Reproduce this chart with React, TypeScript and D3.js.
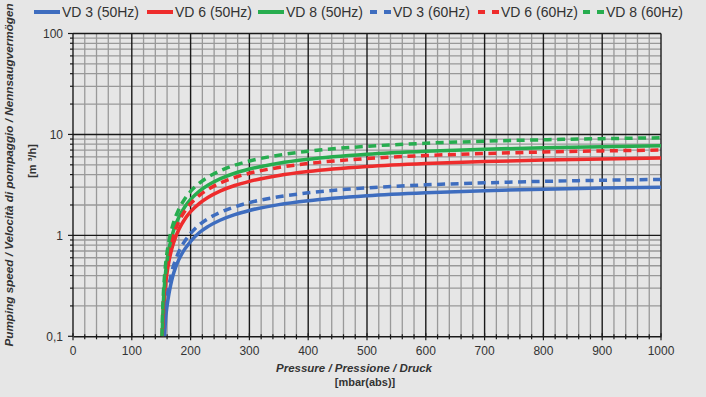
import React, { useEffect, useRef } from 'react';
import * as d3 from 'd3';

// pressure grid [mbar(abs)] shared by all curves
const pressures = [152, 154, 156, 158, 160, 163, 166, 170, 175, 180, 190, 200, 215, 230, 250, 275, 300, 350, 400, 500, 600, 700, 800, 900, 1000];

// pressure where each curve leaves the 0,1 line
const startVD3_50 = 155.5;
const startVD6_50 = 152.2;
const startVD8_50 = 151.7;
const startVD3_60 = 154.5;
const startVD6_60 = 151.8;
const startVD8_60 = 151.4;

// pumping speed [m3/h], null = below the 0,1 line
const vd3_50 = [null, null, 0.11, 0.16, 0.2, 0.26, 0.32, 0.4, 0.49, 0.575, 0.73, 0.87, 1.067, 1.228, 1.412, 1.605, 1.765, 2.017, 2.206, 2.471, 2.648, 2.774, 2.868, 2.942, 3.0];
const vd6_50 = [null, 0.178, 0.264, 0.347, 0.429, 0.547, 0.661, 0.807, 0.98, 1.143, 1.444, 1.715, 2.074, 2.386, 2.744, 3.118, 3.43, 3.92, 4.288, 4.802, 5.145, 5.39, 5.574, 5.717, 5.831];
const vd8_50 = [0.119, 0.236, 0.349, 0.46, 0.568, 0.724, 0.875, 1.068, 1.297, 1.513, 1.912, 2.27, 2.745, 3.158, 3.632, 4.127, 4.54, 5.189, 5.675, 6.356, 6.81, 7.134, 7.378, 7.567, 7.718];
const vd3_60 = [null, null, 0.14, 0.19, 0.24, 0.315, 0.385, 0.48, 0.585, 0.69, 0.875, 1.045, 1.276, 1.468, 1.688, 1.918, 2.11, 2.411, 2.638, 2.954, 3.165, 3.316, 3.429, 3.517, 3.587];
const vd6_60 = [0.108, 0.214, 0.317, 0.417, 0.515, 0.657, 0.794, 0.969, 1.177, 1.373, 1.735, 2.06, 2.491, 2.866, 3.296, 3.745, 4.12, 4.709, 5.15, 5.768, 6.18, 6.474, 6.695, 6.867, 7.004];
const vd8_60 = [0.143, 0.283, 0.419, 0.552, 0.681, 0.869, 1.051, 1.282, 1.557, 1.817, 2.295, 2.725, 3.295, 3.791, 4.36, 4.955, 5.45, 6.229, 6.813, 7.63, 8.175, 8.564, 8.856, 9.083, 9.265];

const seriesNames = ['VD 3 (50Hz)', 'VD 6 (50Hz)', 'VD 8 (50Hz)', 'VD 3 (60Hz)', 'VD 6 (60Hz)', 'VD 8 (60Hz)'];

const xTickLabels = ['0', '100', '200', '300', '400', '500', '600', '700', '800', '900', '1000'];
const yTickValues = [0.1, 1, 10, 100];
const yTickLabels = ['0,1', '1', '10', '100'];

const BLUE = '#3e6dbf';
const RED = '#ee2c2c';
const GREEN = '#27ad4f';

export default function App() {
  const ref = useRef(null);

  useEffect(() => {
    let width = 706, height = 397;
    let left = 73, right = 661, top = 33.5, bottom = 336.3;
    let font = 'Liberation Sans, Arial, sans-serif';

    let svg = d3.select(ref.current);
    svg.selectAll('*').remove();

    svg.append('rect').attr('width', width).attr('height', height).attr('fill', '#e6e6e6');

    let x = d3.scaleLinear().domain([0, 1000]).range([left, right]);
    let y = d3.scaleLog().domain([0.1, 100]).range([bottom, top]);

    let grid = svg.append('g');

    // minor grid every 20 mbar, major every 100
    d3.range(0, 1001, 20).forEach(function (v) {
      if (v % 100 === 0) return;
      grid.append('line')
        .attr('x1', x(v)).attr('x2', x(v)).attr('y1', top).attr('y2', bottom)
        .attr('stroke', '#999').attr('stroke-width', 1.3);
    });
    let yMinor = [];
    [0.1, 1, 10].forEach(function (d) {
      for (let k = 2; k <= 9; k++) yMinor.push(d * k);
    });
    yMinor.forEach(function (v) {
      grid.append('line')
        .attr('x1', left).attr('x2', right).attr('y1', y(v)).attr('y2', y(v))
        .attr('stroke', '#999').attr('stroke-width', 1.3);
    });
    d3.range(100, 1001, 100).forEach(function (v) {
      grid.append('line')
        .attr('x1', x(v)).attr('x2', x(v)).attr('y1', top).attr('y2', bottom)
        .attr('stroke', '#1a1a1a').attr('stroke-width', 1.4);
    });
    [1, 10, 100].forEach(function (v) {
      grid.append('line')
        .attr('x1', left).attr('x2', right).attr('y1', y(v)).attr('y2', y(v))
        .attr('stroke', '#1a1a1a').attr('stroke-width', 1.4);
    });

    // axes
    let xAxis = d3.axisBottom(x).tickValues(d3.range(0, 1001, 20)).tickSize(0).tickFormat('');
    svg.append('g').attr('transform', 'translate(0,' + bottom + ')').call(xAxis)
      .call(g => g.select('.domain').attr('stroke', '#1a1a1a').attr('stroke-width', 1.4));
    d3.range(0, 1001, 20).forEach(function (v) {
      let major = v % 100 === 0;
      svg.append('line')
        .attr('x1', x(v)).attr('x2', x(v))
        .attr('y1', bottom - (major ? 3 : 2)).attr('y2', bottom + (major ? 4 : 3))
        .attr('stroke', '#1a1a1a').attr('stroke-width', 1.2);
    });
    svg.append('line').attr('x1', left).attr('x2', left).attr('y1', top).attr('y2', bottom)
      .attr('stroke', '#1a1a1a').attr('stroke-width', 1.4);
    yTickValues.forEach(function (v) {
      svg.append('line').attr('x1', left - 5).attr('x2', left).attr('y1', y(v)).attr('y2', y(v))
        .attr('stroke', '#1a1a1a').attr('stroke-width', 1.2);
    });
    yMinor.forEach(function (v) {
      svg.append('line').attr('x1', left - 3).attr('x2', left).attr('y1', y(v)).attr('y2', y(v))
        .attr('stroke', '#1a1a1a').attr('stroke-width', 1.2);
    });

    xTickLabels.forEach(function (t) {
      svg.append('text')
        .attr('x', x(+t)).attr('y', 355)
        .attr('text-anchor', 'middle')
        .style('font-family', font).style('font-size', '12px')
        .attr('fill', '#333')
        .text(t);
    });
    yTickValues.forEach(function (v, i) {
      svg.append('text')
        .attr('x', 63).attr('y', y(v)).attr('dy', '0.35em')
        .attr('text-anchor', 'end')
        .style('font-family', font).style('font-size', '12px')
        .attr('fill', '#333')
        .text(yTickLabels[i]);
    });

    // axis titles
    svg.append('text')
      .attr('transform', 'translate(13,175) rotate(-90)')
      .attr('text-anchor', 'middle')
      .style('font-family', font).style('font-size', '11.7px')
      .style('font-weight', 'bold').style('font-style', 'italic')
      .attr('fill', '#333')
      .text('Pumping speed / Velocità di pompaggio / Nennsaugvermögen');
    svg.append('text')
      .attr('transform', 'translate(36,161) rotate(-90)')
      .attr('text-anchor', 'middle')
      .style('font-family', font).style('font-size', '11px')
      .style('font-weight', 'bold')
      .attr('fill', '#333')
      .text('[m ³/h]');
    svg.append('text')
      .attr('x', 354).attr('y', 372)
      .attr('text-anchor', 'middle')
      .style('font-family', font).style('font-size', '11.5px')
      .style('font-weight', 'bold').style('font-style', 'italic')
      .attr('fill', '#333')
      .text('Pressure / Pressione / Druck');
    svg.append('text')
      .attr('x', 365).attr('y', 386)
      .attr('text-anchor', 'middle')
      .style('font-family', font).style('font-size', '11px')
      .style('font-weight', 'bold')
      .attr('fill', '#333')
      .text('[mbar(abs)]');

    // curves
    let series = [
      { name: seriesNames[0], start: startVD3_50, values: vd3_50, color: BLUE, dash: null },
      { name: seriesNames[1], start: startVD6_50, values: vd6_50, color: RED, dash: null },
      { name: seriesNames[2], start: startVD8_50, values: vd8_50, color: GREEN, dash: null },
      { name: seriesNames[3], start: startVD3_60, values: vd3_60, color: BLUE, dash: '8,5.5' },
      { name: seriesNames[4], start: startVD6_60, values: vd6_60, color: RED, dash: '8,5.5' },
      { name: seriesNames[5], start: startVD8_60, values: vd8_60, color: GREEN, dash: '8,5.5' },
    ];

    svg.append('clipPath').attr('id', 'plotClip')
      .append('rect').attr('x', left).attr('y', top).attr('width', right - left).attr('height', bottom - top);

    let line = d3.line()
      .x(d => x(d[0]))
      .y(d => y(d[1]))
      .curve(d3.curveMonotoneX);

    let curves = svg.append('g').attr('clip-path', 'url(#plotClip)');
    series.forEach(function (s) {
      let pts = [[s.start, 0.1]].concat(
        pressures.map((p, i) => [p, s.values[i]]).filter(d => d[1] !== null && d[0] > s.start)
      );
      curves.append('path')
        .attr('d', line(pts))
        .attr('fill', 'none')
        .attr('stroke', s.color)
        .attr('stroke-width', 3.5)
        .attr('stroke-dasharray', s.dash)
        .attr('stroke-linejoin', 'round');
    });

    // legend
    let legendX = [34, 147, 258, 370, 478, 583];
    series.forEach(function (s, i) {
      let lx = legendX[i];
      if (s.dash) {
        svg.append('rect').attr('x', lx).attr('y', 10).attr('width', 7).attr('height', 4).attr('fill', s.color);
        svg.append('rect').attr('x', lx + 14).attr('y', 10).attr('width', 7).attr('height', 4).attr('fill', s.color);
      } else {
        svg.append('rect').attr('x', lx).attr('y', 10).attr('width', 26).attr('height', 4).attr('fill', s.color);
      }
      svg.append('text')
        .attr('x', lx + (s.dash ? 23 : 28)).attr('y', 17)
        .style('font-family', font).style('font-size', '14px')
        .attr('fill', '#333')
        .text(s.name);
    });
  }, []);

  return (
    <svg ref={ref} width={706} height={397} style={{ position: 'absolute', left: 0, top: 0, display: 'block' }} />
  );
}
